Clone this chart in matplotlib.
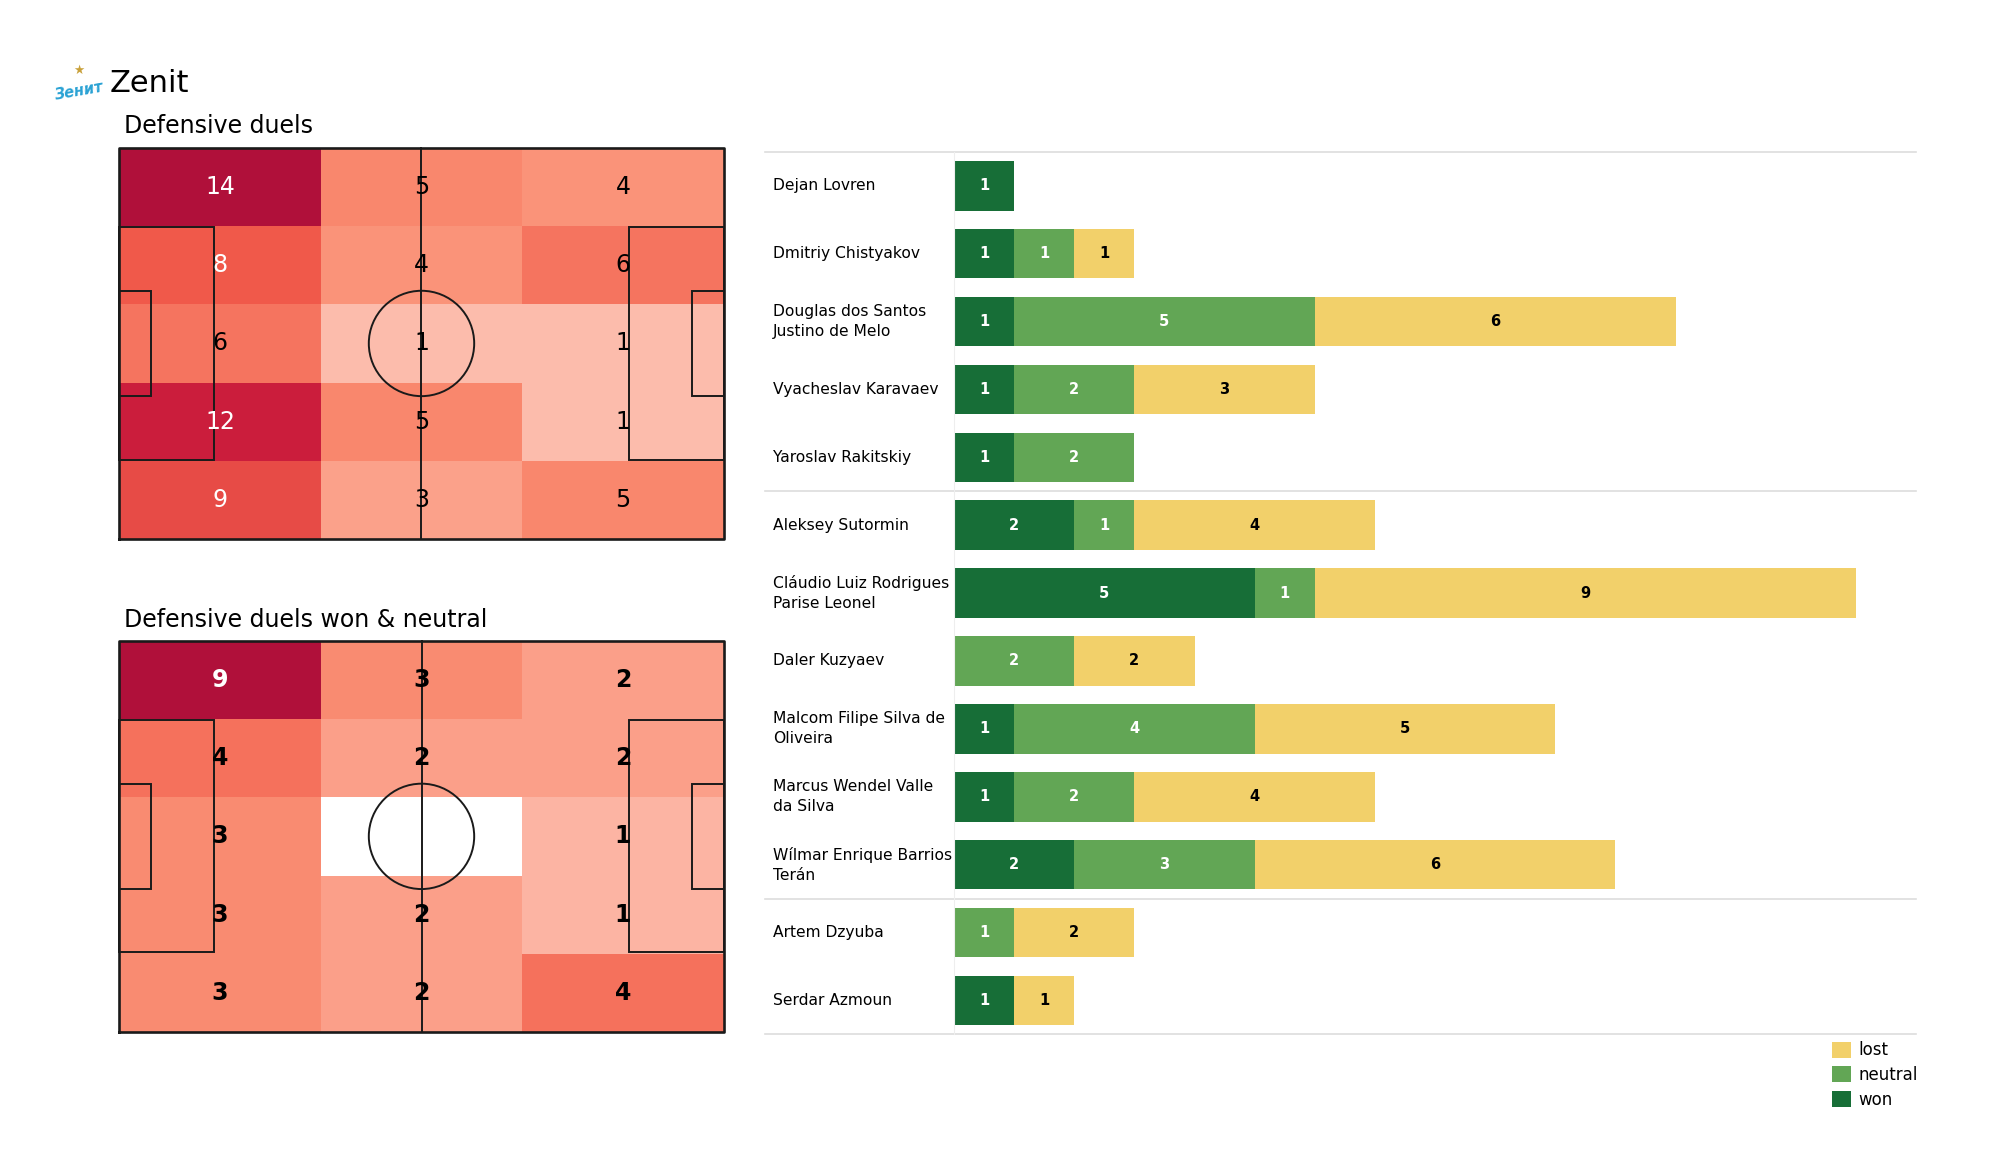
import numpy as np
import matplotlib
matplotlib.use('Agg')
import matplotlib.pyplot as plt
from matplotlib.colors import LinearSegmentedColormap
from matplotlib.patches import Rectangle, Circle
from matplotlib.transforms import blended_transform_factory

plt.rcParams['font.family'] = ['DejaVu Sans']

# ===================== data =====================
# heatmap grids, rows top -> bottom, columns left -> right
duels_grid = [
    [14, 5, 4],
    [8, 4, 6],
    [6, 1, 1],
    [12, 5, 1],
    [9, 3, 5],
]
won_neutral_grid = [
    [9, 3, 2],
    [4, 2, 2],
    [3, 0, 1],
    [3, 2, 1],
    [3, 2, 4],
]

players = [
    "Dejan Lovren",
    "Dmitriy Chistyakov",
    "Douglas dos Santos\nJustino de Melo",
    "Vyacheslav Karavaev",
    "Yaroslav Rakitskiy",
    "Aleksey Sutormin",
    "Cláudio Luiz Rodrigues\nParise Leonel",
    "Daler Kuzyaev",
    "Malcom Filipe Silva de\nOliveira",
    "Marcus Wendel Valle\nda Silva",
    "Wílmar Enrique Barrios\nTerán",
    "Artem Dzyuba",
    "Serdar Azmoun",
]
won = [1, 1, 1, 1, 1, 2, 5, 0, 1, 1, 2, 0, 1]
neutral = [0, 1, 5, 2, 2, 1, 1, 2, 4, 2, 3, 1, 0]
lost = [0, 1, 6, 3, 0, 4, 9, 2, 5, 4, 6, 2, 1]
group_breaks = [4.5, 10.5]  # defenders | midfielders | forwards

# ===================== style =====================
heat_cmap = LinearSegmentedColormap.from_list("zenit_reds", [
    (0.0, "#ffffff"),
    (0.07, "#fcbcac"),
    (0.29, "#fa9278"),
    (0.36, "#f9866c"),
    (0.43, "#f5735e"),
    (0.57, "#f05a4a"),
    (0.86, "#cb1d3c"),
    (1.0, "#b0103a"),
])
c_won = "#176e37"
c_neutral = "#62a655"
c_lost = "#f2d06a"
line_c = "#1a1a1a"


def draw_pitch(ax):
    lw = 1.4
    kw = dict(color=line_c, lw=lw, zorder=3)
    ax.plot([0, 105, 105, 0, 0], [0, 0, 68, 68, 0], color=line_c, lw=1.9, zorder=3)
    ax.plot([52.5, 52.5], [0, 68], **kw)
    ax.add_patch(Circle((52.5, 34), 9.15, fill=False, ec=line_c, lw=lw, zorder=3))
    for x0, w in [(0, 16.5), (105 - 16.5, 16.5)]:
        ax.add_patch(Rectangle((x0, 34 - 20.16), w, 40.32, fill=False, ec=line_c, lw=lw, zorder=3))
    for x0, w in [(0, 5.5), (105 - 5.5, 5.5)]:
        ax.add_patch(Rectangle((x0, 34 - 9.16), w, 18.32, fill=False, ec=line_c, lw=lw, zorder=3))
    ax.set_xlim(-0.3, 105.3)
    ax.set_ylim(-0.3, 68.3)
    ax.set_aspect('equal')
    ax.axis('off')


def draw_heat(ax, grid, bold):
    g = np.array(grid, dtype=float)
    vmax = g.max()
    xe = np.linspace(0, 105, g.shape[1] + 1)
    ye = np.linspace(68, 0, g.shape[0] + 1)
    masked = np.ma.masked_equal(g, 0)
    ax.pcolormesh(xe, ye, masked, cmap=heat_cmap, vmin=0, vmax=vmax, zorder=1)
    for r in range(g.shape[0]):
        for c in range(g.shape[1]):
            v = int(g[r, c])
            if v == 0:
                continue
            cx = (xe[c] + xe[c + 1]) / 2
            cy = (ye[r] + ye[r + 1]) / 2
            col = 'white' if v / vmax > 0.5 else 'black'
            ax.text(cx, cy, str(v), ha='center', va='center', fontsize=17,
                    color=col, fontweight='bold' if bold else 'normal', zorder=4)
    draw_pitch(ax)


fig = plt.figure(figsize=(20, 11.75), dpi=100)

# ===================== header =====================
fig.text(0.0265, 0.922, "Зенит", fontsize=10.5, color="#2aa2d4", style='italic',
         fontweight='bold', ha='left', va='center', rotation=10)
fig.text(0.0395, 0.94, "★", fontsize=9, color="#c9a13b", ha='center', va='center')
fig.text(0.055, 0.929, "Zenit", fontsize=22, ha='left', va='center')

# ===================== pitches =====================
ax1 = fig.add_axes([0.0585, 0.5396, 0.3045, 0.3362])
draw_heat(ax1, duels_grid, bold=False)
fig.text(0.062, 0.8926, "Defensive duels", fontsize=17, ha='left', va='center')

ax2 = fig.add_axes([0.0585, 0.1201, 0.3045, 0.3362])
draw_heat(ax2, won_neutral_grid, bold=True)
fig.text(0.062, 0.4722, "Defensive duels won & neutral", fontsize=17, ha='left', va='center')

# ===================== bars =====================
ax = fig.add_axes([0.477, 0.1197, 0.481, 0.7511])
y = np.arange(len(players))
won_a = np.array(won)
neu_a = np.array(neutral)
lost_a = np.array(lost)
bh = 0.73
ax.barh(y, won_a, height=bh, color=c_won, label='won')
ax.barh(y, neu_a, height=bh, left=won_a, color=c_neutral, label='neutral')
ax.barh(y, lost_a, height=bh, left=won_a + neu_a, color=c_lost, label='lost')

for i in range(len(players)):
    segs = [(won_a[i], 0, 'white'), (neu_a[i], won_a[i], 'white'),
            (lost_a[i], won_a[i] + neu_a[i], 'black')]
    for v, left, col in segs:
        if v > 0:
            ax.text(left + v / 2, i, str(v), ha='center', va='center',
                    fontsize=10.5, fontweight='bold', color=col)

ax.set_xlim(0, 16)
ax.set_ylim(len(players) - 0.5, -0.5)
ax.set_xticks([])
ax.set_yticks([])
for s in ['top', 'right', 'bottom']:
    ax.spines[s].set_visible(False)
ax.spines['left'].set_color('#eeeeee')

trans = blended_transform_factory(ax.transAxes, ax.transData)
for yl in [-0.5] + group_breaks + [len(players) - 0.5]:
    ax.plot([-0.196, 1.0], [yl, yl], color='#dddddd', lw=1.2, transform=trans, clip_on=False)

for i, name in enumerate(players):
    ax.text(-0.188, i, name, ha='left', va='center', fontsize=11.2,
            transform=trans, linespacing=1.4)

handles, labels = ax.get_legend_handles_labels()
ax.legend(handles[::-1], labels[::-1], loc='upper right', bbox_to_anchor=(1.005, -0.004),
          frameon=False, fontsize=12, handlelength=1.1, handleheight=1.1,
          handletextpad=0.45, labelspacing=0.4, borderaxespad=0, borderpad=0.2)

fig.savefig("out.png", dpi=100, facecolor='white')
